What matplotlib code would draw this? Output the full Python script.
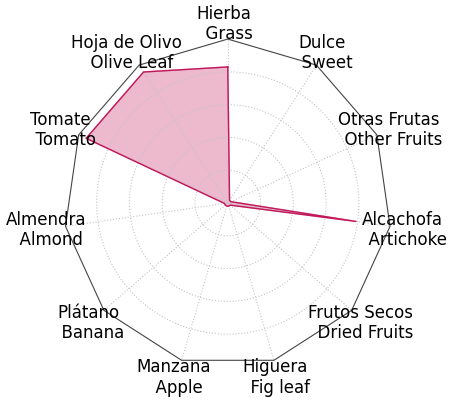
import matplotlib.pyplot as plt
import numpy as np
from matplotlib.patches import RegularPolygon
from matplotlib.path import Path
from matplotlib.projections import register_projection
from matplotlib.projections.polar import PolarAxes
from matplotlib.spines import Spine
from matplotlib.transforms import Affine2D, ScaledTranslation

# ===========================================================
#                          Data
# ===========================================================
labels_es = ["Hierba", "Dulce", "Otras Frutas", "Alcachofa", "Frutos Secos",
             "Higuera", "Manzana", "Plátano", "Almendra", "Tomate", "Hoja de Olivo"]
labels_en = ["Grass", "Sweet", "Other Fruits", "Artichoke", "Dried Fruits",
             "Fig leaf", "Apple", "Banana", "Almond", "Tomato", "Olive Leaf"]
values = [0.83, 0.02, 0.02, 0.79, 0.02, 0.02, 0.02, 0.02, 0.02, 0.95, 0.95]

N = len(labels_es)
theta = np.linspace(0, 2 * np.pi, N, endpoint=False)


# ===========================================================
#               Radar axes with polygon frame
# ===========================================================
def radar_factory(num_vars):
    angles = np.linspace(0, 2 * np.pi, num_vars, endpoint=False)

    class RadarAxes(PolarAxes):
        name = "radar"

        def __init__(self, *args, **kwargs):
            super().__init__(*args, **kwargs)
            self.set_theta_zero_location("N")
            self.set_theta_direction(-1)

        def fill(self, *args, closed=True, **kwargs):
            return super().fill(closed=closed, *args, **kwargs)

        def _gen_axes_patch(self):
            return RegularPolygon((0.5, 0.5), num_vars, radius=0.5, edgecolor="k")

        def _gen_axes_spines(self):
            spine = Spine(axes=self, spine_type="circle",
                          path=Path.unit_regular_polygon(num_vars))
            spine.set_transform(Affine2D().scale(0.5).translate(0.5, 0.5)
                                + self.transAxes)
            return {"polar": spine}

    register_projection(RadarAxes)
    return angles


radar_factory(N)

fig = plt.figure(figsize=(4.56, 4.0), dpi=100)
ax = fig.add_axes([0.14, 0.0825, 0.719, 0.82], projection="radar")

vals = values + values[:1]
ang = list(theta) + [theta[0]]
ax.plot(ang, vals, color="#c2185b", linewidth=1)
ax.fill(theta, values, color="#c2185b", alpha=0.3)

ax.set_ylim(0, 1)
ax.set_yticks([0.2, 0.4, 0.6, 0.8, 1.0])
ax.set_yticklabels([])
ax.grid(True, linestyle=":", color="#c4c4c4", linewidth=0.8)
ax.spines["polar"].set_color("#444444")
ax.spines["polar"].set_linewidth(0.8)

# category labels, centred just outside each vertex
ax.set_xticks(theta)
ax.set_xticklabels([])
shift = ax.transData + ScaledTranslation(-0.035, -0.015, fig.dpi_scale_trans)
for t, es, en in zip(theta, labels_es, labels_en):
    ax.text(t, 1.1, f"{es}\n  {en}", ha="center", va="center",
            fontsize=12, linespacing=1.15, transform=shift)

fig.savefig("out.png", dpi=100)
